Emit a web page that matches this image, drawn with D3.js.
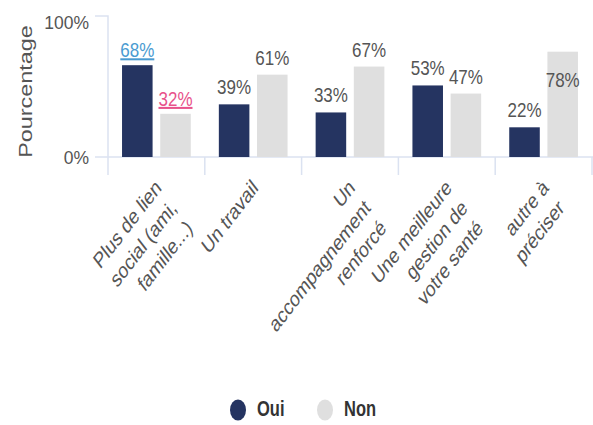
<!DOCTYPE html>
<html>
<head>
<meta charset="utf-8">
<script src="https://cdn.jsdelivr.net/npm/d3@7"></script>
<style>
  body { margin: 0; background: #fff; }
  text { font-family: "Liberation Sans", Arial, sans-serif; }
</style>
</head>
<body>
<svg id="chart" width="593" height="425"></svg>
<script>
// data
const categories = [
  ["Plus de lien", "social (ami,", "famille...)"],
  ["Un travail"],
  ["Un", "accompagnement", "renforcé"],
  ["Une meilleure", "gestion de", "votre santé"],
  ["autre à", "préciser"]
];
const series = ["Oui", "Non"];
const oui = [68, 39, 33, 53, 22];
const non = [32, 61, 67, 47, 78];
const yTicks = [0, 100];
const highlightCat = 0;   // first group has coloured, underlined labels

const colors = { Oui: "#253461", Non: "#dfdfdf" };
const highlightColors = { Oui: "#4a9bd1", Non: "#e8528b" };

const svg = d3.select("#chart");
const plotLeft = 108, plotRight = 592, plotTop = 22, plotBottom = 157;
const stretch = 1.3; // text in the picture is drawn taller than wide

const x = d3.scaleBand().domain(d3.range(categories.length)).range([plotLeft, plotRight]);
const xs = d3.scaleBand().domain(series)
  .range([x.bandwidth() * 0.145, x.bandwidth() * 0.855]).paddingInner(0.2);
const y = d3.scaleLinear().domain([0, 100]).range([plotBottom, plotTop]);

// grid / axis lines
const lineCol = "#dbe2f1";
svg.append("line").attr("x1", plotLeft - 13).attr("x2", 593)
  .attr("y1", y(0)).attr("y2", y(0)).attr("stroke", lineCol).attr("stroke-width", 1.5);
svg.append("path")
  .attr("d", `M${plotLeft - 13},${y(100) - 6}H${plotLeft}V${y(0) + 18}`)
  .attr("fill", "none").attr("stroke", lineCol).attr("stroke-width", 1.5);
svg.append("g").selectAll("line").data(d3.range(1, categories.length + 1)).join("line")
  .attr("x1", i => plotLeft + i * x.step()).attr("x2", i => plotLeft + i * x.step())
  .attr("y1", y(0)).attr("y2", y(0) + 18)
  .attr("stroke", lineCol).attr("stroke-width", 1.5);

// y tick labels
svg.append("g").selectAll("text").data(yTicks).join("text")
  .attr("x", plotLeft - 19).attr("y", d => y(d) + 6.5)
  .attr("text-anchor", "end").attr("font-size", 17.5).attr("fill", "#555")
  .text(d => d + "%");

// y title
svg.append("text")
  .attr("transform", `translate(32,${(plotTop + plotBottom) / 2 + 2}) scale(1,${stretch}) rotate(-90)`)
  .attr("text-anchor", "middle").attr("font-size", 18).attr("fill", "#555")
  .text("Pourcentage");

// bars
const rows = categories.map((c, i) => ({ i, Oui: oui[i], Non: non[i] }));
const groups = svg.append("g").selectAll("g").data(rows).join("g")
  .attr("transform", d => `translate(${x(d.i)},0)`);

groups.selectAll("rect").data(d => series.map(s => ({ s, v: d[s], i: d.i }))).join("rect")
  .attr("x", d => xs(d.s)).attr("width", xs.bandwidth())
  .attr("y", d => y(d.v)).attr("height", d => y(0) - y(d.v))
  .attr("fill", d => colors[d.s]);

// value labels
groups.selectAll("g.lab").data(d => series.map(s => ({ s, v: d[s], i: d.i }))).join("g")
  .attr("class", "lab")
  .attr("transform", d => {
    const hl = d.i === highlightCat;
    let base = y(d.v) - (hl ? 8 : 10);
    if (base - 14 < 30) base += 45; // no room above: drop inside the bar
    return `translate(${xs(d.s) + xs.bandwidth() / 2},${base}) scale(1,1.2)`;
  })
  .append("text")
  .attr("text-anchor", "middle").attr("font-size", 17)
  .attr("fill", d => d.i === highlightCat ? highlightColors[d.s] : "#555")
  .style("text-decoration", d => d.i === highlightCat ? "underline" : null)
  .text(d => d.v + "%");

// category labels, rotated
svg.append("g").selectAll("text").data(categories).join("text")
  .attr("transform", (d, i) =>
    `translate(${x(i) + x.bandwidth() / 2 + 6},189) scale(1,${stretch}) rotate(-45)`)
  .attr("text-anchor", "end").attr("font-size", 17).attr("fill", "#555")
  .selectAll("tspan").data(d => d).join("tspan")
  .attr("x", 0).attr("dy", (d, j) => j === 0 ? 0 : 22)
  .text(d => d);

// legend
const legend = svg.append("g").selectAll("g").data(series).join("g")
  .attr("transform", (d, i) => `translate(${238 + i * 87},410)`);
legend.append("ellipse").attr("rx", 8).attr("ry", 10.5).attr("fill", d => colors[d]);
legend.append("text")
  .attr("transform", `translate(19,6) scale(1,${stretch})`)
  .attr("font-size", 16.5).attr("font-weight", "bold").attr("fill", "#333")
  .text(d => d);
</script>
</body>
</html>
